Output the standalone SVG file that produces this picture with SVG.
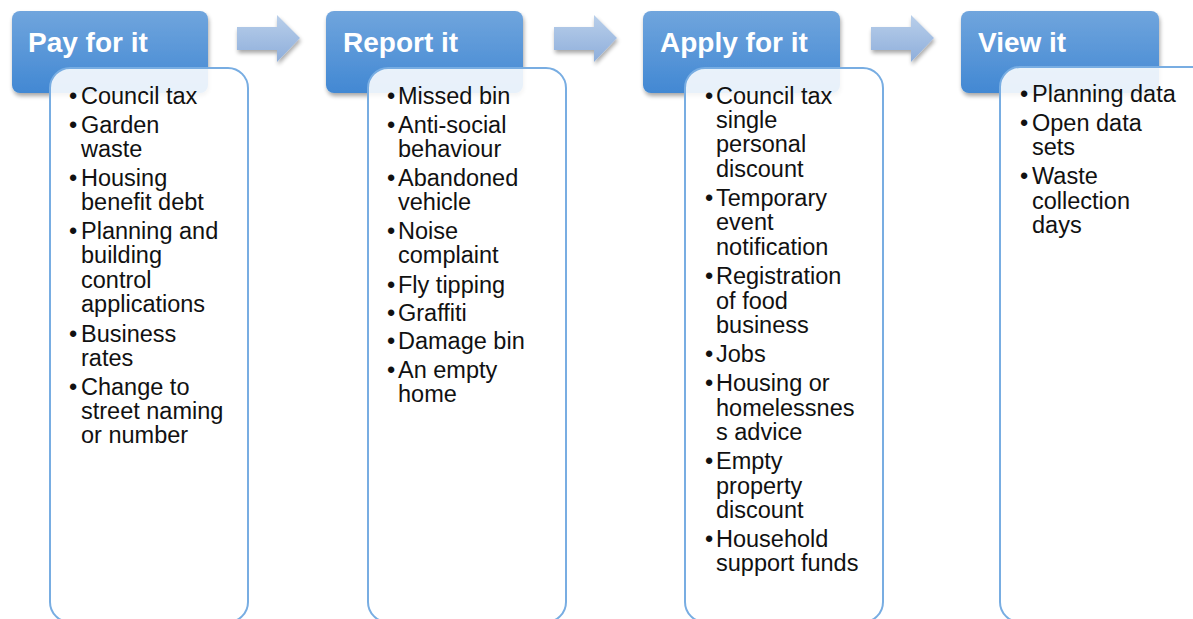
<svg xmlns="http://www.w3.org/2000/svg" width="1193" height="619" viewBox="0 0 1193 619">
  <defs>
    <linearGradient id="hdrGrad" x1="0" y1="0" x2="0" y2="1">
      <stop offset="0" stop-color="#70a5dd"/>
      <stop offset="1" stop-color="#4288d3"/>
    </linearGradient>
    <linearGradient id="arrowGrad" x1="0" y1="0" x2="0" y2="1">
      <stop offset="0" stop-color="#b9cfea"/>
      <stop offset="1" stop-color="#8eaedb"/>
    </linearGradient>
    <filter id="shadow" x="-10%" y="-10%" width="125%" height="130%">
      <feGaussianBlur in="SourceAlpha" stdDeviation="2"/>
      <feOffset dx="1" dy="3" result="b"/>
      <feComponentTransfer><feFuncA type="linear" slope="0.35"/></feComponentTransfer>
      <feMerge><feMergeNode/><feMergeNode in="SourceGraphic"/></feMerge>
    </filter>
    <path id="arrow" d="M0,12 H40 V0 L63,23 L40,47 V35 H0 Z"/>
  </defs>
  <style>
    .hdr { fill: url(#hdrGrad); filter: url(#shadow); }
    .hdrText { font-family: "Liberation Sans", Arial, sans-serif; font-weight: bold; font-size: 28px; fill: #ffffff; }
    .card { fill: #ffffff; fill-opacity: 0.88; stroke: #78ade2; stroke-width: 2; }
    .item { font-family: "Liberation Sans", Arial, sans-serif; font-size: 23.5px; fill: #111111; }
    .arrow { fill: url(#arrowGrad); filter: url(#shadow); }
  </style>

  <!-- connectors between stages -->
  <g id="connectors">
    <use href="#arrow" class="arrow" x="237" y="15"/>
    <use href="#arrow" class="arrow" x="554" y="15"/>
    <use href="#arrow" class="arrow" x="871" y="15"/>
  </g>

  <!-- Stage 1 -->
  <g id="pay-for-it">
    <rect class="hdr" x="12" y="11" width="196" height="82" rx="8"/>
    <text class="hdrText" x="28" y="52">Pay for it</text>
    <rect class="card" x="50" y="68" width="198" height="554" rx="20"/>
    <g class="item">
      <text x="69" y="104">•</text><text x="81" y="104">Council tax</text>
      <text x="69" y="133">•</text><text x="81" y="133">Garden</text>
      <text x="81" y="157">waste</text>
      <text x="69" y="186">•</text><text x="81" y="186">Housing</text>
      <text x="81" y="210">benefit debt</text>
      <text x="69" y="239">•</text><text x="81" y="239">Planning and</text>
      <text x="81" y="263">building</text>
      <text x="81" y="288">control</text>
      <text x="81" y="312">applications</text>
      <text x="69" y="342">•</text><text x="81" y="342">Business</text>
      <text x="81" y="366">rates</text>
      <text x="69" y="395">•</text><text x="81" y="395">Change to</text>
      <text x="81" y="419">street naming</text>
      <text x="81" y="443">or number</text>
    </g>
  </g>

  <!-- Stage 2 -->
  <g id="report-it">
    <rect class="hdr" x="326" y="11" width="197" height="82" rx="8"/>
    <text class="hdrText" x="343" y="52">Report it</text>
    <rect class="card" x="368" y="68" width="198" height="554" rx="20"/>
    <g class="item">
      <text x="387" y="104">•</text><text x="398" y="104">Missed bin</text>
      <text x="387" y="133">•</text><text x="398" y="133">Anti-social</text>
      <text x="398" y="157">behaviour</text>
      <text x="387" y="186">•</text><text x="398" y="186">Abandoned</text>
      <text x="398" y="210">vehicle</text>
      <text x="387" y="239">•</text><text x="398" y="239">Noise</text>
      <text x="398" y="263">complaint</text>
      <text x="387" y="293">•</text><text x="398" y="293">Fly tipping</text>
      <text x="387" y="321">•</text><text x="398" y="321">Graffiti</text>
      <text x="387" y="349">•</text><text x="398" y="349">Damage bin</text>
      <text x="387" y="378">•</text><text x="398" y="378">An empty</text>
      <text x="398" y="402">home</text>
    </g>
  </g>

  <!-- Stage 3 -->
  <g id="apply-for-it">
    <rect class="hdr" x="643" y="11" width="197" height="82" rx="8"/>
    <text class="hdrText" x="660" y="52">Apply for it</text>
    <rect class="card" x="685" y="68" width="198" height="554" rx="20"/>
    <g class="item">
      <text x="705" y="104">•</text><text x="716" y="104">Council tax</text>
      <text x="716" y="128">single</text>
      <text x="716" y="152">personal</text>
      <text x="716" y="177">discount</text>
      <text x="705" y="206">•</text><text x="716" y="206">Temporary</text>
      <text x="716" y="230">event</text>
      <text x="716" y="255">notification</text>
      <text x="705" y="284">•</text><text x="716" y="284">Registration</text>
      <text x="716" y="309">of food</text>
      <text x="716" y="333">business</text>
      <text x="705" y="362">•</text><text x="716" y="362">Jobs</text>
      <text x="705" y="391">•</text><text x="716" y="391">Housing or</text>
      <text x="716" y="416">homelessnes</text>
      <text x="716" y="440">s advice</text>
      <text x="705" y="469">•</text><text x="716" y="469">Empty</text>
      <text x="716" y="494">property</text>
      <text x="716" y="518">discount</text>
      <text x="705" y="547">•</text><text x="716" y="547">Household</text>
      <text x="716" y="571">support funds</text>
    </g>
  </g>

  <!-- Stage 4 -->
  <g id="view-it">
    <rect class="hdr" x="961" y="11" width="198" height="82" rx="8"/>
    <text class="hdrText" x="978" y="52">View it</text>
    <rect class="card" x="1000" y="67" width="240" height="555" rx="20"/>
    <g class="item">
      <text x="1020" y="102">•</text><text x="1032" y="102">Planning data</text>
      <text x="1020" y="131">•</text><text x="1032" y="131">Open data</text>
      <text x="1032" y="155">sets</text>
      <text x="1020" y="184">•</text><text x="1032" y="184">Waste</text>
      <text x="1032" y="209">collection</text>
      <text x="1032" y="233">days</text>
    </g>
  </g>
</svg>
